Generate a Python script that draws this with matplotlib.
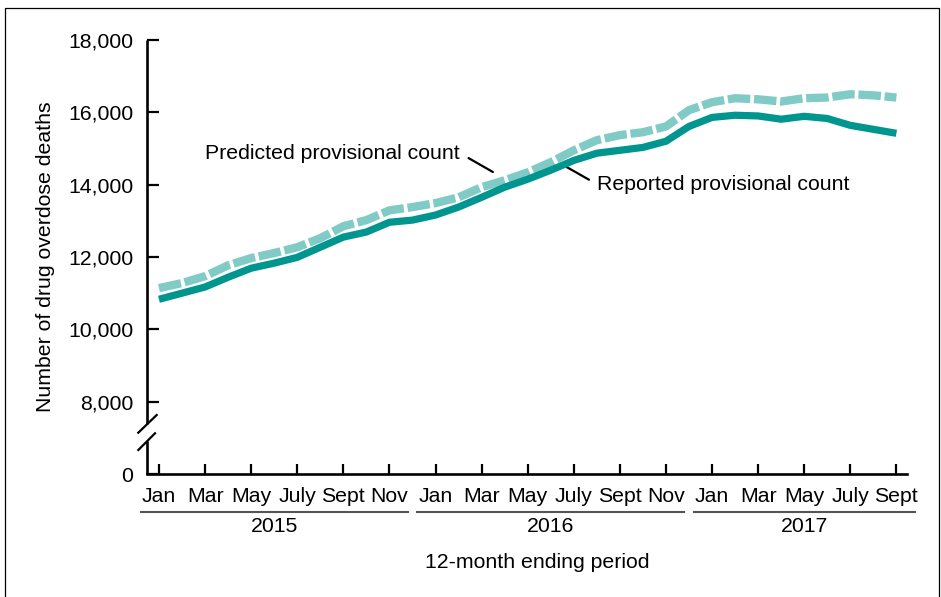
import matplotlib
matplotlib.use("Agg")
import matplotlib.pyplot as plt
import matplotlib.transforms as mtransforms
from matplotlib.lines import Line2D

plt.rcParams['font.family'] = ['Liberation Sans', 'DejaVu Sans']

# ---- data ----
month_index = list(range(33))  # Jan 2015 .. Sept 2017 (12-month ending period)
tick_labels = ["Jan", "Mar", "May", "July", "Sept", "Nov"] * 2 + ["Jan", "Mar", "May", "July", "Sept"]
years = ["2015", "2016", "2017"]
year_first_month = [0, 12, 24]
year_last_month = [10, 22, 32]

reported = [10830, 11000, 11170, 11440, 11690, 11830, 11990, 12270, 12550, 12690,
            12960, 13020, 13160, 13380, 13650, 13930, 14150, 14400, 14670, 14870,
            14950, 15030, 15200, 15610, 15860, 15920, 15900, 15810, 15890, 15830,
            15640, 15530, 15420]
predicted = [11140, 11280, 11470, 11770, 11970, 12110, 12270, 12520, 12850, 13020,
             13290, 13380, 13490, 13650, 13930, 14120, 14340, 14620, 14950, 15230,
             15370, 15450, 15610, 16060, 16280, 16390, 16360, 16300, 16390, 16410,
             16500, 16470, 16410]

y_ticks = [6000, 8000, 10000, 12000, 14000, 16000, 18000]
y_tick_labels = ["0", "8,000", "10,000", "12,000", "14,000", "16,000", "18,000"]

# ---- figure ----
W, H = 941, 597
fig = plt.figure(figsize=(W / 100, H / 100), dpi=100)
ax = fig.add_axes([147 / W, 1 - 474 / H, 760 / W, 434 / H])

dark = "#00968f"
light = "#80cbc5"
fs = 15.3

ax.plot(month_index, predicted, color=light, lw=6.0, dashes=(2.7, 0.45),
        solid_capstyle="butt", dash_capstyle="butt", zorder=3)
ax.plot(month_index, reported, color=dark, lw=5.2, solid_joinstyle="round",
        solid_capstyle="butt", zorder=4)

ax.set_xlim(-0.52, 32.46)
ax.set_ylim(6000, 18000)

ax.set_xticks(month_index[::2])
ax.set_xticklabels(tick_labels, fontsize=fs)
ax.set_yticks(y_ticks)
ax.set_yticklabels(y_tick_labels, fontsize=fs)
ax.tick_params(axis="x", direction="in", length=7, width=1.6, pad=9)
ax.tick_params(axis="y", direction="in", length=8.5, width=1.6, pad=10)

for s in ["top", "right", "left"]:
    ax.spines[s].set_visible(False)
ax.spines["bottom"].set_linewidth(1.9)

# broken left axis
y_gap_top = (474 - 424) / 434
y_gap_bot = (474 - 441) / 434
ax.add_line(Line2D([0, 0], [y_gap_top, 1], transform=ax.transAxes, color="black",
                   lw=1.9, clip_on=False, solid_capstyle="butt"))
ax.add_line(Line2D([0, 0], [0, y_gap_bot], transform=ax.transAxes, color="black",
                   lw=1.9, clip_on=False, solid_capstyle="butt"))
for (x0, y0, x1, y1) in [(138.3, 432.7, 156.7, 415.0), (138.3, 450.0, 155.0, 433.3)]:
    ax.add_line(Line2D([(x0 - 147) / 760, (x1 - 147) / 760],
                       [(474 - y0) / 434, (474 - y1) / 434],
                       transform=ax.transAxes, color="black", lw=1.6, clip_on=False))

ax.set_ylabel("Number of drug overdose deaths", fontsize=fs, labelpad=9)

# year groups
trans = mtransforms.blended_transform_factory(ax.transData, fig.transFigure)
for yr, a, b in zip(years, year_first_month, year_last_month):
    fig.add_artist(Line2D([a - 0.8, b + 0.8], [1 - 512 / H] * 2, transform=trans,
                          color="#555555", lw=1.5))
    fig.text((a + b) / 2, 1 - 527 / H, yr, transform=trans, ha="center", va="center",
             fontsize=fs)
fig.text(16.4, 1 - 563 / H, "12-month ending period", transform=trans, ha="center",
         va="center", fontsize=fs)

# annotations
ax.annotate("Predicted provisional count", xy=(14.49, 14350), xytext=(13.05, 14875),
            ha="right", va="center", fontsize=fs,
            arrowprops=dict(arrowstyle="-", color="black", lw=1.6, shrinkA=5, shrinkB=0,
                            relpos=(1, 0.5)))
ax.annotate("Reported provisional count", xy=(17.69, 14488), xytext=(18.99, 14018),
            ha="left", va="center", fontsize=fs,
            arrowprops=dict(arrowstyle="-", color="black", lw=1.6, shrinkA=4, shrinkB=0,
                            relpos=(0, 0.5)))

# figure border
fig.add_artist(Line2D([4.5 / W, 4.5 / W, 938.5 / W, 938.5 / W],
                      [0, 1 - 7.5 / H, 1 - 7.5 / H, 0], transform=fig.transFigure,
                      color="black", lw=0.9))

fig.savefig("out.png", dpi=100)
